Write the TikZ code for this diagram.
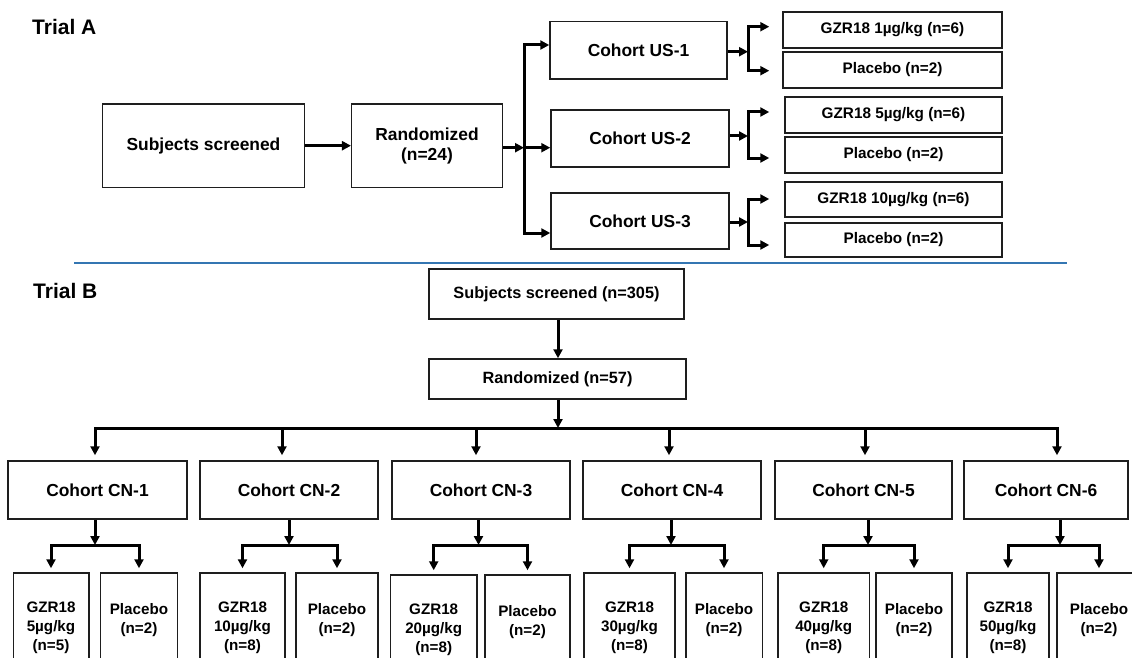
\documentclass[tikz,border=0pt]{standalone}
\usepackage{fontspec}
\setmainfont{Liberation Sans}
\usepackage{xcolor}
\definecolor{rulblue}{RGB}{52,118,178}
\definecolor{boxline}{RGB}{30,30,30}
\usepackage{tikz}
\usetikzlibrary{arrows.meta,positioning}

\begin{document}
\begin{tikzpicture}[x=1pt,y=-1pt,
    box/.style={draw=boxline,line width=1.5pt,fill=white,inner sep=0pt,align=center,
      font=\fontsize{17.4}{20}\selectfont\bfseries},
    armbox/.style={box,font=\fontsize{15.3}{18}\selectfont\bfseries},
    topbox/.style={box,font=\fontsize{16.3}{19}\selectfont\bfseries},
    cnbox/.style={box,minimum height=58},
    lowbox/.style={box,minimum height=110,font=\fontsize{15.2}{19}\selectfont\bfseries},
    arr/.style={line width=3pt,-{Triangle[length=9pt,width=9pt]}},
    fork/.style={line width=3pt,{Triangle[length=9pt,width=9pt]}-{Triangle[length=9pt,width=9pt]}},
    ttl/.style={anchor=west,inner sep=0pt,font=\fontsize{21}{24}\selectfont\bfseries}]
            \useasboundingbox (0,0) rectangle (1132,658);
            % Trial A
            \node[ttl] (ttlA) at (32,27) {Trial A};
            \node[box,minimum width=201.6,minimum height=83.3] (scrA) at (203.5,145.7) {Subjects screened};
            \node[box,minimum width=150.6,minimum height=83.3] (rndA) at (427,145.7) {Randomized\\(n=24)};
            \node[box,minimum width=177,minimum height=57.3] (us1) at (638.5,50.3) {Cohort US-1};
            \node[box,minimum width=178,minimum height=57] (us2) at (640,138.5) {Cohort US-2};
            \node[box,minimum width=178,minimum height=56] (us3) at (640,221) {Cohort US-3};
            \node[armbox,minimum width=219,minimum height=36] (gA1) at (892.5,30) {GZR18 1µg/kg (n=6)};
            \node[armbox,minimum width=219,minimum height=36] (pA1) at (892.5,70) {Placebo (n=2)};
            \node[armbox,minimum width=217,minimum height=36] (gA2) at (893.5,115) {GZR18 5µg/kg (n=6)};
            \node[armbox,minimum width=217,minimum height=36] (pA2) at (893.5,155) {Placebo (n=2)};
            \node[armbox,minimum width=217,minimum height=35] (gA3) at (893.5,199.5) {GZR18 10µg/kg (n=6)};
            \node[armbox,minimum width=217,minimum height=34] (pA3) at (893.5,240) {Placebo (n=2)};
            \draw[arr] (scrA) -- (rndA);
            \coordinate (vA) at (524,147.7);
            \coordinate (vAt) at (524,45);
            \coordinate (vAb) at (524,233);
            \draw[arr] (rndA.east |- vA) -- (vA);
            \draw[arr] (vA) -- (us2.west |- vA);
            \draw[fork] (us1.west |- vAt) -- (vAt) -- (vAb) -- (us3.west |- vAb);
            \coordinate (f1) at (748,51.7); \coordinate (f1t) at (748,26.7); \coordinate (f1b) at (748,70.7);
            \coordinate (f2) at (748,136);  \coordinate (f2t) at (748,112);  \coordinate (f2b) at (748,158);
            \coordinate (f3) at (748,222);  \coordinate (f3t) at (748,199);  \coordinate (f3b) at (748,245);
            \draw[arr] (us1.east |- f1) -- (f1);
            \draw[arr] (us2.east |- f2) -- (f2);
            \draw[arr] (us3.east |- f3) -- (f3);
            \draw[fork,shorten <=13pt,shorten >=13pt] (gA1.west |- f1t) -- (f1t) -- (f1b) -- (pA1.west |- f1b);
            \draw[fork,shorten <=15pt,shorten >=15pt] (gA2.west |- f2t) -- (f2t) -- (f2b) -- (pA2.west |- f2b);
            \draw[fork,shorten <=15pt,shorten >=15pt] (gA3.west |- f3t) -- (f3t) -- (f3b) -- (pA3.west |- f3b);
            % separator
            \coordinate (sepL) at (74,262.5);
            \coordinate (sepR) at (1067,262.5);
            \draw[rulblue,line width=2pt] (sepL) -- (sepR);
            % Trial B
            \node[ttl] (ttlB) at (33,291) {Trial B};
            \node[topbox,minimum width=255,minimum height=50] (scrB) at (556.5,294) {Subjects screened (n=305)};
            \node[topbox,minimum width=257,minimum height=40] (rndB) at (557.5,379) {Randomized (n=57)};
            \coordinate (mB) at (558,428);
            \draw[arr] (scrB.south -| mB) -- (rndB.north -| mB);
            \draw[arr] (rndB.south -| mB) -- (mB);
            \node[cnbox,minimum width=179] (cn1) at (97.5,490) {Cohort CN-1};
            \node[cnbox,minimum width=178] (cn2) at (289,490) {Cohort CN-2};
            \node[cnbox,minimum width=178] (cn3) at (481,490) {Cohort CN-3};
            \node[cnbox,minimum width=178] (cn4) at (672,490) {Cohort CN-4};
            \node[cnbox,minimum width=177] (cn5) at (863.5,490) {Cohort CN-5};
            \node[cnbox,minimum width=164] (cn6) at (1046,490) {Cohort CN-6};
            \coordinate (d1) at (95,428);  \coordinate (d2) at (282,428);
            \coordinate (d3) at (476,428); \coordinate (d4) at (669,428);
            \coordinate (d5) at (865,428); \coordinate (d6) at (1057,428);
            \draw[fork,shorten <=5pt,shorten >=5pt] (d1 |- cn1.north) -- (d1) -- (d6) -- (d6 |- cn6.north);
            \draw[arr,shorten >=5pt] (d2) -- (d2 |- cn2.north);
            \draw[arr,shorten >=5pt] (d3) -- (d3 |- cn3.north);
            \draw[arr,shorten >=5pt] (d4) -- (d4 |- cn4.north);
            \draw[arr,shorten >=5pt] (d5) -- (d5 |- cn5.north);
            % arms
            \node[lowbox,minimum width=75.5] (g1) at (51,628) {GZR18\\5µg/kg\\(n=5)};
            \node[lowbox,minimum width=77] (p1) at (139,628) {Placebo\\(n=2)\\~};
            \node[lowbox,minimum width=85] (g2) at (242.5,628) {GZR18\\10µg/kg\\(n=8)};
            \node[lowbox,minimum width=82] (p2) at (337,628) {Placebo\\(n=2)\\~};
            \node[lowbox,minimum width=86.5] (g3) at (433.7,630) {GZR18\\20µg/kg\\(n=8)};
            \node[lowbox,minimum width=85] (p3) at (527.5,630) {Placebo\\(n=2)\\~};
            \node[lowbox,minimum width=91] (g4) at (629.5,628) {GZR18\\30µg/kg\\(n=8)};
            \node[lowbox,minimum width=76.5] (p4) at (724,628) {Placebo\\(n=2)\\~};
            \node[lowbox,minimum width=91.5] (g5) at (823.7,628) {GZR18\\40µg/kg\\(n=8)};
            \node[lowbox,minimum width=76] (p5) at (914,628) {Placebo\\(n=2)\\~};
            \node[lowbox,minimum width=82] (g6) at (1008,628) {GZR18\\50µg/kg\\(n=8)};
            \node[lowbox,minimum width=84] (p6) at (1099,628) {Placebo\\(n=2)\\~};
            \coordinate (k1) at (95,545);    \coordinate (k2) at (289,545);
            \coordinate (k3) at (478.5,545); \coordinate (k4) at (671,545);
            \coordinate (k5) at (868,545);   \coordinate (k6) at (1060,545);
            \draw[arr] (cn1.south -| k1) -- (k1);
            \draw[arr] (cn2.south -| k2) -- (k2);
            \draw[arr] (cn3.south -| k3) -- (k3);
            \draw[arr] (cn4.south -| k4) -- (k4);
            \draw[arr] (cn5.south -| k5) -- (k5);
            \draw[arr] (cn6.south -| k6) -- (k6);
            \draw[fork,shorten <=4pt,shorten >=4pt] (g1.north) -- (g1.north |- k1) -- (p1.north |- k1) -- (p1.north);
            \draw[fork,shorten <=4pt,shorten >=4pt] (g2.north) -- (g2.north |- k2) -- (p2.north |- k2) -- (p2.north);
            \draw[fork,shorten <=4pt,shorten >=4pt] (g3.north) -- (g3.north |- k3) -- (p3.north |- k3) -- (p3.north);
            \draw[fork,shorten <=4pt,shorten >=4pt] (g4.north) -- (g4.north |- k4) -- (p4.north |- k4) -- (p4.north);
            \draw[fork,shorten <=4pt,shorten >=4pt] (g5.north) -- (g5.north |- k5) -- (p5.north |- k5) -- (p5.north);
            \draw[fork,shorten <=4pt,shorten >=4pt] (g6.north) -- (g6.north |- k6) -- (p6.north |- k6) -- (p6.north);
        \end{tikzpicture}
\end{document}
